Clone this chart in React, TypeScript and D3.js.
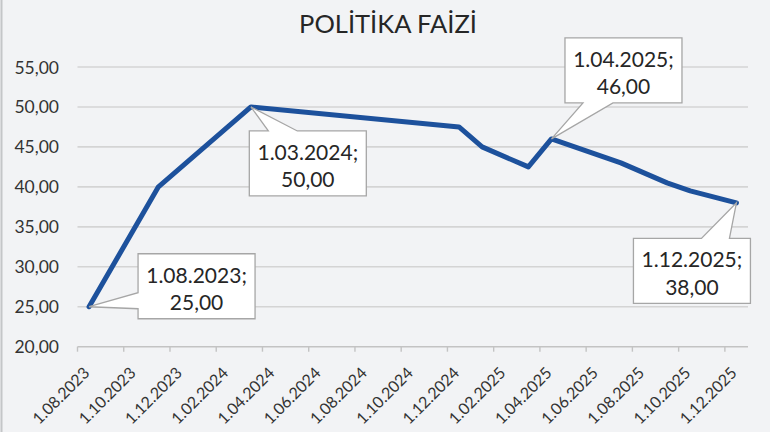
import React from "react";
import * as d3 from "d3";

const TITLE = "POLİTİKA FAİZİ";
const dates = ["1.08.2023", "1.11.2023", "1.03.2024", "1.12.2024", "1.01.2025", "1.03.2025", "1.04.2025", "1.07.2025", "1.09.2025", "1.10.2025", "1.12.2025"];
const rates = [25, 40, 50, 47.5, 45, 42.5, 46, 43, 40.5, 39.5, 38];
const tickLabels = ["1.08.2023", "1.10.2023", "1.12.2023", "1.02.2024", "1.04.2024", "1.06.2024", "1.08.2024", "1.10.2024", "1.12.2024", "1.02.2025", "1.04.2025", "1.06.2025", "1.08.2025", "1.10.2025", "1.12.2025"];
const yTicks = [20, 25, 30, 35, 40, 45, 50, 55];
const annotated = ["1.08.2023", "1.03.2024", "1.04.2025", "1.12.2025"];

// layout for callouts (box offset from point, wedge side and wedge base offsets)
const calloutLayout = [
  { dx: 49, dy: -53, side: "left", a: 39, b: 55 },
  { dx: -1.6, dy: 24, side: "top", a: 19, b: 48 },
  { dx: 13.5, dy: -101, side: "bottom", a: 18, b: 48 },
  { dx: -103, dy: 35.5, side: "top", a: 68, b: 96 },
];

const W = 770, H = 432;
const BOX_W = 117, BOX_H = 65;
const FONT = "Lato, 'Open Sans', sans-serif";

const monthIndex = (s: string) => {
  const [, mm, yyyy] = s.split(".").map(Number);
  return (yyyy - 2023) * 12 + (mm - 8);
};
const fmt = (v: number) => v.toFixed(2).replace(".", ",");

export default function App() {
  const x = d3.scaleLinear().domain([0, 29]).range([77.5, 748]);
  const y = d3.scaleLinear().domain([20, 55]).range([346.7, 67]);
  const px = (s: string) => x(monthIndex(s) + 0.5);

  const pts = dates.map((d, i) => [px(d), y(rates[i])] as [number, number]);
  const line = d3.line()(pts) || "";

  const callouts = annotated.map((d, i) => {
    const idx = dates.indexOf(d);
    const [cx, cy] = pts[idx];
    const L = calloutLayout[i];
    const bx = cx + L.dx, by = cy + L.dy;
    const r = bx + BOX_W, bt = by + BOX_H;
    let p = "";
    if (L.side === "top") {
      p = `M${bx},${by}L${bx + L.a},${by}L${cx},${cy}L${bx + L.b},${by}L${r},${by}L${r},${bt}L${bx},${bt}Z`;
    } else if (L.side === "bottom") {
      p = `M${bx},${by}L${r},${by}L${r},${bt}L${bx + L.b},${bt}L${cx},${cy}L${bx + L.a},${bt}L${bx},${bt}Z`;
    } else {
      p = `M${bx},${by}L${r},${by}L${r},${bt}L${bx},${bt}L${bx},${by + L.b}L${cx},${cy}L${bx},${by + L.a}Z`;
    }
    return { p, bx, by, d, v: rates[idx] };
  });

  return (
    <svg width={W} height={H} style={{ position: "absolute", left: 0, top: 0 }} fontFamily={FONT}>
      <rect x={0} y={0} width={W} height={H} fill="#f2f3f5" />
      <line x1={1.5} x2={1.5} y1={0} y2={H} stroke="#c4c6c8" strokeWidth={2} />
      <text x={388} y={33} textAnchor="middle" fontSize={25.5} fill="#262626">{TITLE}</text>
      {yTicks.map((t) => (
        <g key={t}>
          <line x1={x(0)} x2={x(29)} y1={y(t)} y2={y(t)} stroke={t === 20 ? "#c3c3c3" : "#d4d4d4"} strokeWidth={1.6} />
          <text x={59} y={y(t) + 6.5} textAnchor="end" fontSize={17.5} fill="#333">{fmt(t)}</text>
        </g>
      ))}
      {tickLabels.map((t) => {
        const tx = x(monthIndex(t));
        return (
          <g key={t}>
            <line x1={tx} x2={tx} y1={y(20)} y2={y(20) + 5} stroke="#c3c3c3" strokeWidth={1.4} />
            <text transform={`translate(${tx + 13},${374}) rotate(-45)`} textAnchor="end" fontSize={16} fill="#333">{t}</text>
          </g>
        );
      })}
      <path d={line} fill="none" stroke="#1d519c" strokeWidth={5} strokeLinejoin="round" strokeLinecap="round" />
      {callouts.map((c) => (
        <g key={c.d}>
          <path d={c.p} fill="#ffffff" stroke="#a6a6a6" strokeWidth={1.3} strokeLinejoin="miter" />
          <text x={c.bx + BOX_W / 2} y={c.by + 29} textAnchor="middle" fontSize={21} fill="#262626">{c.d + ";"}</text>
          <text x={c.bx + BOX_W / 2} y={c.by + 56.5} textAnchor="middle" fontSize={21} fill="#262626">{fmt(c.v)}</text>
        </g>
      ))}
    </svg>
  );
}
